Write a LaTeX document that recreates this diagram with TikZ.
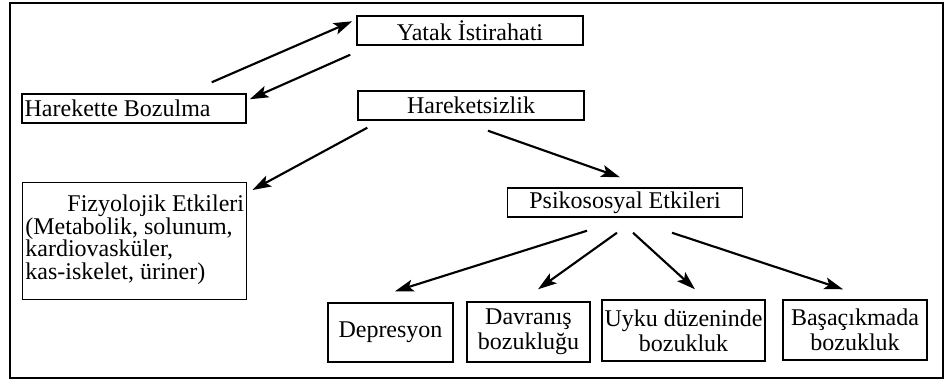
\documentclass[tikz,border=0pt]{standalone}
\usepackage{fontspec}
\setmainfont{Liberation Serif}
\usetikzlibrary{shapes,arrows.meta}

\begin{document}
\begin{tikzpicture}[x = 0.75pt, y = -0.75pt,
    box/.style = {draw, line width = 1.1pt, inner sep = 2pt, font = \fontsize{18pt}{17pt}\selectfont},
    twoline/.style = {box, align = center, font = \fontsize{18pt}{19pt}\selectfont},
    arr/.style = {line width = 1.6pt, -{Stealth[length = 14pt, width = 9pt, inset = 3pt]}}]

    \useasboundingbox (0,0) rectangle (946,380);
    \draw [line width = 1.2pt] (10,3) rectangle (943,378);

    \node[box, minimum width = 169.5pt, minimum height = 21.75pt] (yatak) at (470,30.5) {Yatak İstirahati};
    \node[box, minimum width = 168pt, minimum height = 21.75pt, text width = 164pt, align = flush left] (bozulma) at (134,108.5) {Harekette Bozulma};
    \node[box, minimum width = 169.5pt, minimum height = 21.75pt] (hs) at (471,105.5) {Hareketsizlik};
    \node[box, anchor = north west, text width = 164pt, align = flush left] (fizyo) at (22,182)
        {\rule{0pt}{19.5pt}\hfill Fizyolojik Etkileri\\ (Metabolik, solunum,\\ kardiovasküler,\\ kas-iskelet, üriner)\rule[-13pt]{0pt}{13pt}};
    \node[box, minimum width = 176pt, minimum height = 21.75pt] (psiko) at (625,202.5) {Psikososyal Etkileri};

    \node[box, minimum width = 93.75pt, minimum height = 44.25pt] (dep) at (390.5,332.5) {Depresyon};
    \node[twoline, minimum width = 92.25pt, minimum height = 45pt] (dav) at (528.5,332) {Davranış\\ bozukluğu};
    \node[twoline, minimum width = 122.25pt, minimum height = 45.75pt] (uyku) at (683.5,330.5) {Uyku düzeninde\\ bozukluk};
    \node[twoline, minimum width = 108pt, minimum height = 45pt] (basa) at (855,330) {Başaçıkmada\\ bozukluk};

    \draw[arr] ([shift={(-35,-11)}]bozulma.north east) -- ([shift={(-4,6)}]yatak.north west);
    \draw[arr] ([shift={(-6,9)}]yatak.south west) -- ([shift={(3,6)}]bozulma.north east);
    \draw[arr] ([shift={(10,7)}]hs.south west) -- ([shift={(5,8)}]fizyo.north east);
    \draw[arr] ([shift={(17,10)}]hs.south) -- ([shift={(-5,-10)}]psiko.north);

    \draw[arr] ([shift={(-38,13)}]psiko.south) -- ([shift={(4.5,-11)}]dep.north);
    \draw[arr] ([shift={(-8,15)}]psiko.south) -- ([shift={(9.5,-12)}]dav.north);
    \draw[arr] ([shift={(8,15)}]psiko.south) -- ([shift={(11.5,-10)}]uyku.north);
    \draw[arr] ([shift={(47,15)}]psiko.south) -- ([shift={(-12,-10)}]basa.north);

\end{tikzpicture}
\end{document}
